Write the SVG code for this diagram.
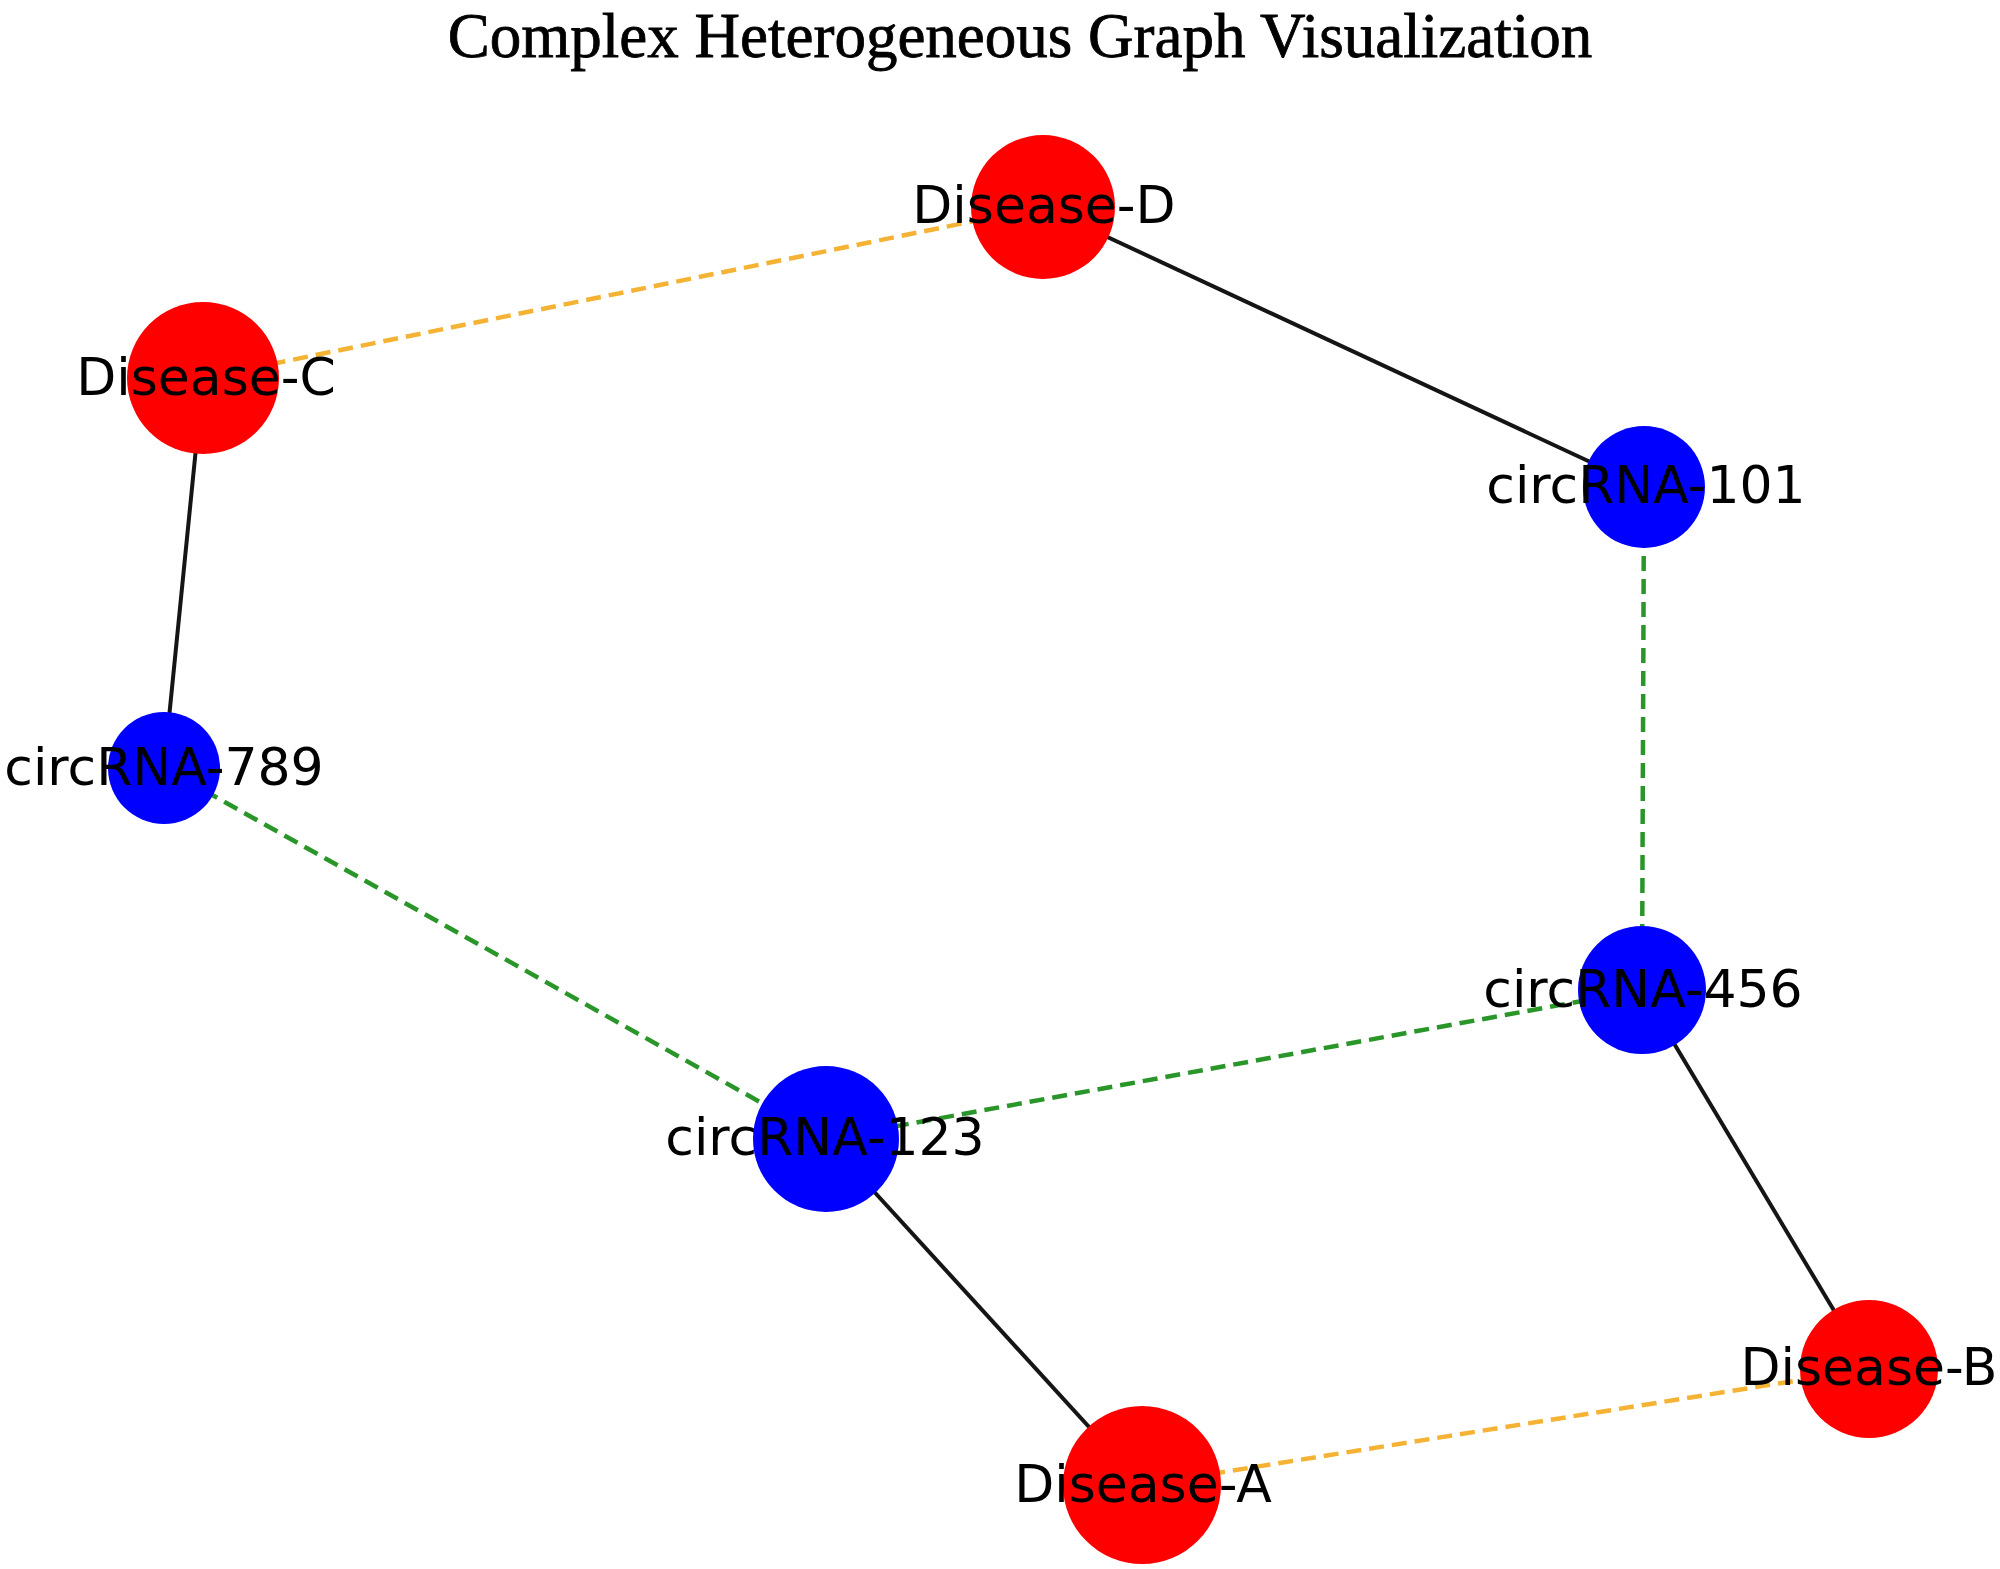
<svg xmlns="http://www.w3.org/2000/svg" width="2000" height="1569" viewBox="0 0 2000 1569">
<style>
.title{font-family:"Liberation Serif","Times New Roman",serif;font-size:63px;fill:#000;stroke:#000;stroke-width:0.8;text-anchor:middle}
.lbl{font-family:"DejaVu Sans",sans-serif;font-size:52px;fill:#000;text-anchor:middle}
.dis{fill:#ff0000}
.rna{fill:#0000ff}
.solid{stroke:#151515;stroke-width:4;fill:none}
.orange{stroke:#f5b335;stroke-width:4.5;stroke-dasharray:15 8;fill:none}
.green{stroke:#2a962a;stroke-width:4.5;stroke-dasharray:15 8;fill:none}
</style>
<rect width="2000" height="1569" fill="#fff"/>
<text class="title" x="1020" y="57">Complex Heterogeneous Graph Visualization</text>
<g id="connectors">
<line class="solid" x1="1043" y1="207" x2="1644" y2="487"/>
<line class="orange" x1="203" y1="378" x2="1043" y2="207"/>
<line class="solid" x1="203" y1="378" x2="164" y2="768"/>
<line class="green" x1="1644" y1="487" x2="1642" y2="990"/>
<line class="green" x1="164" y1="768" x2="826" y2="1139"/>
<line class="green" x1="826" y1="1139" x2="1642" y2="990"/>
<line class="solid" x1="1642" y1="990" x2="1869" y2="1369"/>
<line class="solid" x1="826" y1="1139" x2="1142" y2="1485"/>
<line class="orange" x1="1142" y1="1485" x2="1869" y2="1369"/>
</g>
<g id="disease-d"><circle class="dis" cx="1043" cy="207" r="72"/><text class="lbl" x="1044" y="223">Disease-D</text></g>
<g id="disease-c"><circle class="dis" cx="203" cy="378" r="76"/><text class="lbl" x="206" y="395">Disease-C</text></g>
<g id="circrna-101"><circle class="rna" cx="1644" cy="487" r="61"/><text class="lbl" x="1646" y="503">circRNA-101</text></g>
<g id="circrna-789"><circle class="rna" cx="164" cy="768" r="56"/><text class="lbl" x="164" y="785">circRNA-789</text></g>
<g id="circrna-456"><circle class="rna" cx="1642" cy="990" r="64"/><text class="lbl" x="1643" y="1007">circRNA-456</text></g>
<g id="circrna-123"><circle class="rna" cx="826" cy="1139" r="73"/><text class="lbl" x="825" y="1155">circRNA-123</text></g>
<g id="disease-a"><circle class="dis" cx="1142" cy="1485" r="79"/><text class="lbl" x="1143" y="1502">Disease-A</text></g>
<g id="disease-b"><circle class="dis" cx="1869" cy="1369" r="69"/><text class="lbl" x="1869" y="1385">Disease-B</text></g>
</svg>
